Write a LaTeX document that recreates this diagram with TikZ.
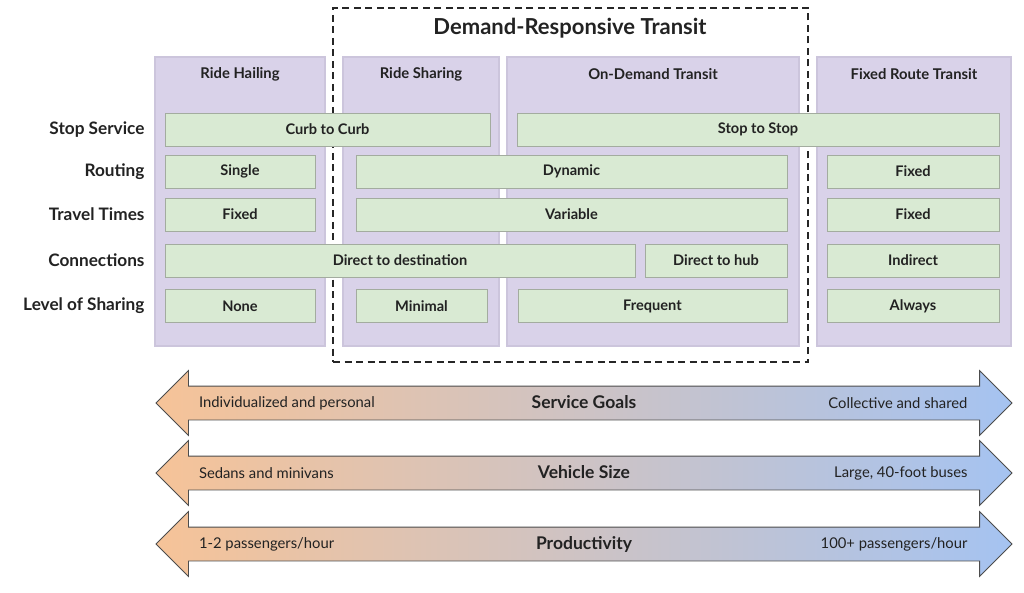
\documentclass[tikz,border=0pt]{standalone}
\usepackage{fontspec}
\setmainfont{Lato}
\usetikzlibrary{shapes.arrows}
\definecolor{panelfill}{HTML}{D9D2E9}
\definecolor{panelline}{HTML}{CCC5DC}
\definecolor{cellfill}{HTML}{D9EAD3}
\definecolor{cellline}{HTML}{A3AC9F}
\definecolor{goalleft}{HTML}{F6C398}
\definecolor{goalmid}{HTML}{D6CACB}
\definecolor{goalright}{HTML}{A5C3F1}
\definecolor{inktext}{HTML}{222222}
\tikzset{
  ptitle/.style={font=\bfseries\fontsize{14.8}{17}\selectfont, text=inktext},
  panel/.style={draw=panelline, fill=panelfill, line width=1.2pt,
                minimum height=289, inner sep=0pt},
  cell/.style={draw=cellline, fill=cellfill, line width=0.8pt, inner sep=0pt,
               minimum height=33, minimum width=#1, text=inktext,
               font=\bfseries\fontsize{14.6}{17}\selectfont},
  rowlbl/.style={anchor=east, text=inktext, font=\bfseries\fontsize{17.2}{20}\selectfont},
  drtbox/.style={draw=black!85, line width=1.4pt, dash pattern=on 7pt off 4.5pt},
}

\begin{document}
\begin{tikzpicture}[x=1pt, y=-1pt,
    spectrum/.style={double arrow, double arrow head extend=15.5pt, draw=black!70,
                     line width=0.8pt, left color=goalleft, middle color=goalmid,
                     right color=goalright, minimum height=856, minimum width=0pt,
                     inner xsep=0pt, inner ysep=9pt, text height=13pt, text depth=2pt,
                     text=inktext, font=\bfseries\fontsize{17.5}{20}\selectfont},
    endtxt/.style={text=inktext, font=\fontsize{14.8}{17}\selectfont}
]
  \useasboundingbox (0,0) rectangle (1024,593);

  \node[drtbox, minimum width=475, minimum height=354] (drt) at (570.5,185) {};
  \node[font=\bfseries\fontsize{22}{26}\selectfont, text=inktext] (drttitle) at (570,28) {Demand-Responsive Transit};

  \node[panel, minimum width=170] (hail) at (240,201.5) {};
  \node[panel, minimum width=156] (share) at (421,201.5) {};
  \node[panel, minimum width=292] (odt) at (653,201.5) {};
  \node[panel, minimum width=194] (frt) at (914,201.5) {};
  \node[ptitle] (hailtitle) at (240,74) {Ride Hailing};
  \node[ptitle] (sharetitle) at (421,74) {Ride Sharing};
  \node[ptitle] (odttitle) at (653,74) {On-Demand Transit};
  \node[ptitle] (frttitle) at (914,74) {Fixed Route Transit};

  \foreach \y/\name/\txt in {129.5/stop/Stop Service, 171.5/route/Routing,
      214.5/times/Travel Times, 260.5/conn/Connections, 306/level/Level of Sharing}
    \node[rowlbl] (lbl\name) at (148,\y) {\txt};

  \node[cell=325] (curb) at (327.5,129.5) {Curb to Curb};
  \node[cell=482] (stopstop) at (758,129.5) {Stop to Stop};

  \node[cell=150] (single) at (240,171.5) {Single};
  \node[cell=431] (dynamic) at (571.5,171.5) {Dynamic};
  \node[cell=172] (fixroute) at (913,171.5) {Fixed};

  \node[cell=150] (fixtime) at (240,214.5) {Fixed};
  \node[cell=431] (variable) at (571.5,214.5) {Variable};
  \node[cell=172] (fixtime2) at (913,214.5) {Fixed};

  \node[cell=470] (dest) at (400,260.5) {Direct to destination};
  \node[cell=142] (hub) at (716,260.5) {Direct to hub};
  \node[cell=172] (indirect) at (913,260.5) {Indirect};

  \node[cell=150] (none) at (240,306) {None};
  \node[cell=131] (minimal) at (421.5,306) {Minimal};
  \node[cell=269] (frequent) at (652.5,306) {Frequent};
  \node[cell=172] (always) at (913,306) {Always};

  \foreach \y/\id/\lt/\mt/\rt in {403/goals/Individualized and personal/Service Goals/Collective and shared,
      473/size/Sedans and minivans/Vehicle Size/{Large, 40-foot buses},
      544/prod/{1-2 passengers/hour}/Productivity/{100+ passengers/hour}}
  {
    \node[spectrum] (\id) at (584,\y) {\mt};
    \node[endtxt, anchor=west] (\id left) at (195.5,\y) {\lt};
    \node[endtxt, anchor=east] (\id right) at (971,\y) {\rt};
  }
\end{tikzpicture}
\end{document}
